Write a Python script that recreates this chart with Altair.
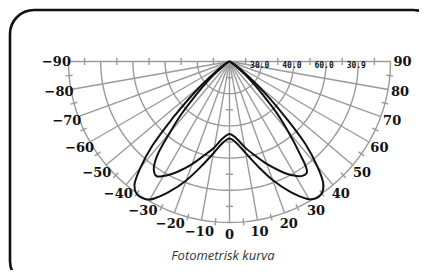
import altair as alt
import pandas as pd

# ---------------- data ----------------
ANGLES = [-90, -80, -70, -60, -55, -50, -47.5, -45, -42.5, -40, -37.5, -35, -32.5, -30,
          -27.5, -25, -20, -15, -10, -5, 0, 5, 10, 15, 20, 25, 27.5, 30, 32.5, 35,
          37.5, 40, 42.5, 45, 47.5, 50, 55, 60, 70, 80, 90]
OUTER = [0, 0.3, 0.9, 3.2, 8.3, 22, 34, 50.5, 71, 86, 97, 100.5, 100.6, 99,
         94.6, 89.6, 78.6, 67.3, 58, 51, 47.8, 50.9, 57.8, 67.1, 78.3, 89.4, 94.4, 98.8, 100.6, 100,
         95.7, 84.5, 70.2, 49.7, 33.5, 21.7, 8.1, 3.1, 0.9, 0.3, 0]
INNER = [0, 0, 0.3, 1.3, 4.5, 12.8, 20.3, 29.8, 44, 57.5, 74, 82, 84.4, 82.2,
         79, 75.4, 67.8, 60.3, 54.2, 47.9, 45, 47.8, 54, 60.2, 67.7, 75.2, 78.9, 82, 84.2, 83.9,
         70.8, 56.5, 43.5, 29.2, 19.9, 12.4, 4.3, 1.2, 0.3, 0, 0]

RING_VALUES = [20, 40, 60, 80, 100]
SPOKE_ANGLES = list(range(-90, 91, 10))
HALF_RING_TICKS = [10, 30, 50, 70, 90]
ARC_TICK_ANGLES = list(range(-85, 86, 10))
LABEL_ANGLES = list(range(-90, 91, 10))
ANGLE_LABELS = ["−90", "−80", "−70", "−60", "−50", "−40", "−30", "−20", "−10", "0",
                "10", "20", "30", "40", "50", "60", "70", "80", "90"]
SCALE_LABEL_R = [20, 40, 60, 80]
SCALE_LABELS = ["30.0", "40.0", "60.0", "30.9"]
TITLE = "Fotometrisk kurva"

# ---------------- layout ----------------
W, H = 411, 262
CX, CY = 221.5, 53.5          # pole position inside plot area (px)
K = 1.61                      # px per intensity unit
LABEL_R = 107.5               # radius of angle labels (units)
TICK = 3.5                    # half tick length (px)
GRID = "#9a9a9a"

xs = alt.Scale(domain=[-CX, W - CX], nice=False, zero=False)
ys = alt.Scale(domain=[CY - H, CY], nice=False, zero=False)


def X(f):
    return alt.X(f, type="quantitative", scale=xs, axis=None)


def Y(f):
    return alt.Y(f, type="quantitative", scale=ys, axis=None)


SIN = "sin(datum.angle*PI/180)"
COS = "cos(datum.angle*PI/180)"

# rings
ring_df = pd.DataFrame([(rv, a) for rv in RING_VALUES for a in range(-90, 91, 2)],
                       columns=["ring", "angle"])
rings = alt.Chart(ring_df).mark_line(color=GRID, strokeWidth=1.4).transform_calculate(
    x=f"{K}*datum.ring*{SIN}", y=f"-{K}*datum.ring*{COS}"
).encode(x=X("x"), y=Y("y"), detail="ring:N", order=alt.Order("angle:Q"))

# spokes
spoke_df = pd.DataFrame({"angle": SPOKE_ANGLES, "r": [RING_VALUES[-1]] * len(SPOKE_ANGLES)})
spokes = alt.Chart(spoke_df).mark_rule(color=GRID, strokeWidth=1.4).transform_calculate(
    x0="0", y0="0", x1=f"{K}*datum.r*{SIN}", y1=f"-{K}*datum.r*{COS}"
).encode(x=X("x0"), y=Y("y0"), x2="x1:Q", y2="y1:Q")

# ticks
tick_rows = []
for r in HALF_RING_TICKS:
    tick_rows.append((-90, r, "cross"))
    tick_rows.append((90, r, "cross"))
    tick_rows.append((0, r, "cross"))
for a in ARC_TICK_ANGLES:
    tick_rows.append((a, RING_VALUES[-1], "radial"))
tick_df = pd.DataFrame(tick_rows, columns=["angle", "r", "kind"])
ticks = alt.Chart(tick_df).mark_rule(color=GRID, strokeWidth=1.4).transform_calculate(
    px=f"{K}*datum.r*{SIN}", py=f"-{K}*datum.r*{COS}",
    dx=f"{TICK}*(datum.kind=='cross' ? {COS} : {SIN})",
    dy=f"{TICK}*(datum.kind=='cross' ? {SIN} : -{COS})",
).transform_calculate(
    xa="datum.px-datum.dx", xb="datum.px+datum.dx",
    ya="datum.py-datum.dy", yb="datum.py+datum.dy",
).encode(x=X("xa"), y=Y("ya"), x2="xb:Q", y2="yb:Q")

# curves
curve_df = pd.concat([
    pd.DataFrame({"curve": "outer", "angle": ANGLES, "value": OUTER}),
    pd.DataFrame({"curve": "inner", "angle": ANGLES, "value": INNER}),
])
curves = alt.Chart(curve_df).mark_line(
    color="#111111", strokeWidth=2, interpolate="catmull-rom"
).transform_calculate(
    x=f"{K}*datum.value*{SIN}", y=f"-{K}*datum.value*{COS}"
).encode(x=X("x"), y=Y("y"), detail="curve:N", order=alt.Order("angle:Q"))

# angle labels
lab_df = pd.DataFrame({"angle": LABEL_ANGLES, "label": ANGLE_LABELS})
labels = alt.Chart(lab_df).mark_text(
    font="DejaVu Serif", fontWeight="bold", fontSize=13, color="#111111",
    align="center", baseline="middle"
).transform_calculate(
    x=f"{K}*{LABEL_R}*{SIN}", y=f"-{K}*{LABEL_R}*{COS}"
).encode(x=X("x"), y=Y("y"), text="label:N")

# scale labels on the top line
sl_df = pd.DataFrame({"r": SCALE_LABEL_R, "label": SCALE_LABELS})
scale_labels = alt.Chart(sl_df).mark_text(
    font="DejaVu Sans Mono", fontWeight="bold", fontSize=8, color="#111111",
    align="center", baseline="middle", dx=-2, dy=4.5
).transform_calculate(
    x=f"{K}*datum.r", y="0"
).encode(x=X("x"), y=Y("y"), text="label:N")

# title
title = alt.Chart(pd.DataFrame({"t": [TITLE]})).mark_text(
    font="Open Sans", fontStyle="italic", fontSize=13, color="#333333",
    align="center", baseline="middle"
).encode(x=alt.value(215), y=alt.value(248), text="t:N")

# rounded frame (runs past the window on the right and bottom, as in the original)
frame = alt.Chart(pd.DataFrame({"a": [0]})).mark_rect(
    fillOpacity=0, stroke="#111111", strokeWidth=2.6, cornerRadius=24
).encode(x=alt.value(2), x2=alt.value(429), y=alt.value(2), y2=alt.value(277))

chart = alt.layer(rings, spokes, ticks, curves, labels, scale_labels, title, frame).properties(
    width=W, height=H, padding=0, autosize="none", background="white"
).configure_view(strokeWidth=0)

chart.save("out.html", embed_options={"renderer": "svg", "actions": False})
